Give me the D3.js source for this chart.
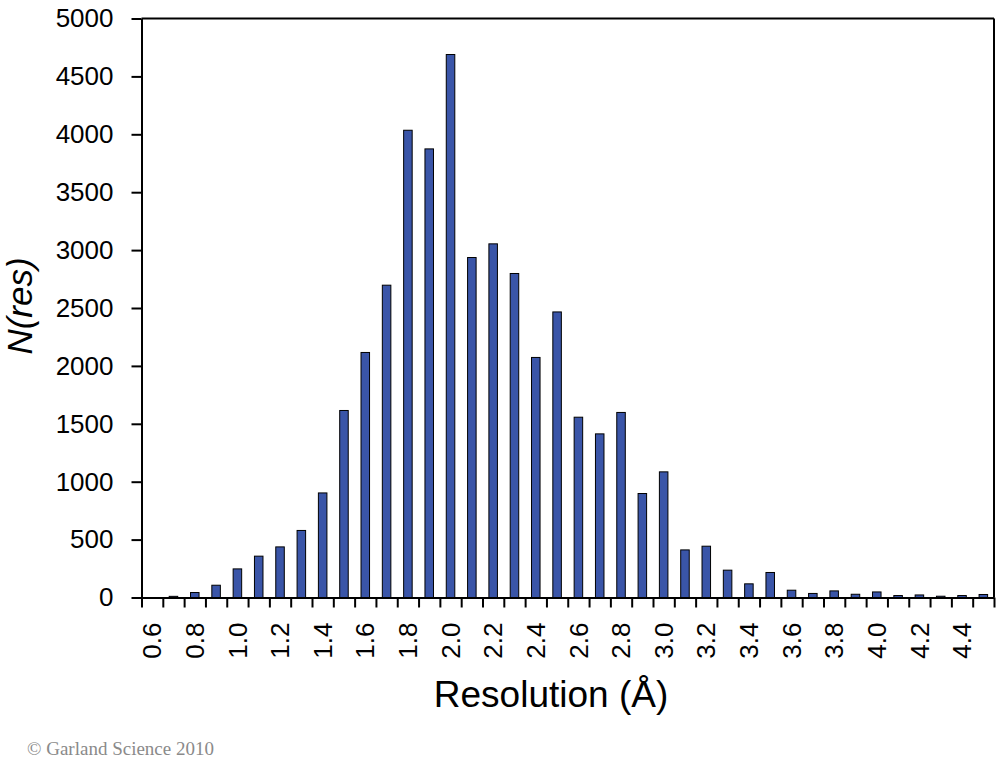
<!DOCTYPE html>
<html>
<head>
<meta charset="utf-8">
<script src="https://cdn.jsdelivr.net/npm/d3@7"></script>
<style>
  html, body { margin: 0; padding: 0; background: #fff; }
  svg { display: block; }
</style>
</head>
<body>
<svg id="chart" width="1000" height="777"></svg>
<script>
const categories = ["0.6","0.7","0.8","0.9","1.0","1.1","1.2","1.3","1.4","1.5",
  "1.6","1.7","1.8","1.9","2.0","2.1","2.2","2.3","2.4","2.5",
  "2.6","2.7","2.8","2.9","3.0","3.1","3.2","3.3","3.4","3.5",
  "3.6","3.7","3.8","3.9","4.0","4.1","4.2","4.3","4.4","4.5"];
const counts = [0, 10, 43, 106, 247, 357, 437, 579, 903, 1615,
  2116, 2697, 4035, 3874, 4689, 2936, 3054, 2798, 2073, 2466,
  1557, 1413, 1598, 898, 1085, 411, 443, 236, 118, 216,
  63, 35, 57, 28, 48, 17, 22, 11, 17, 26];
const labeledCategories = categories.filter((d, i) => i % 2 === 0 && i < 39);
const yTicks = [0, 500, 1000, 1500, 2000, 2500, 3000, 3500, 4000, 4500, 5000];

const svg = d3.select("#chart");
const mLeft = 141.5, mRight = 994, mTop = 18.5, mBottom = 597.5;
const font = "'Liberation Sans', Arial, sans-serif";

const x = d3.scaleBand().domain(categories).range([mLeft, mRight])
  .paddingInner(0.6).paddingOuter(0.3);
const xEdge = d3.scaleLinear().domain([0, categories.length]).range([mLeft, mRight]);
const y = d3.scaleLinear().domain([0, 5000]).range([mBottom, mTop]);

// bars
svg.append("g").selectAll("rect").data(counts).join("rect")
  .attr("x", (d, i) => x(categories[i]))
  .attr("y", d => y(d))
  .attr("width", x.bandwidth())
  .attr("height", d => y(0) - y(d))
  .attr("fill", "#3a55a8")
  .attr("stroke", "#000")
  .attr("stroke-width", 1);

// frame top & right
svg.append("line").attr("x1", mLeft).attr("x2", mRight).attr("y1", mTop).attr("y2", mTop)
  .attr("stroke", "#000").attr("stroke-width", 2);
svg.append("line").attr("x1", mRight).attr("x2", mRight).attr("y1", mTop).attr("y2", mBottom)
  .attr("stroke", "#000").attr("stroke-width", 2);

// y axis
const yAxis = svg.append("g").attr("transform", `translate(${mLeft},0)`)
  .call(d3.axisLeft(y).tickValues(yTicks).tickFormat(d3.format("d"))
    .tickSize(10).tickPadding(18).tickSizeOuter(0));
yAxis.selectAll("path, line").attr("stroke", "#000").attr("stroke-width", 2);
yAxis.selectAll("text").attr("font-family", font).attr("font-size", 26).attr("fill", "#000");

// x axis ticks at category boundaries
const xAxis = svg.append("g").attr("transform", `translate(0,${mBottom})`)
  .call(d3.axisBottom(xEdge).tickValues(d3.range(categories.length + 1))
    .tickFormat("").tickSize(10).tickSizeOuter(0));
xAxis.selectAll("path, line").attr("stroke", "#000").attr("stroke-width", 2);

// x labels, rotated
const xLab = svg.append("g").attr("transform", `translate(0,${mBottom})`)
  .call(d3.axisBottom(x).tickValues(labeledCategories).tickSize(0).tickPadding(0));
xLab.select(".domain").remove();
xLab.selectAll("text")
  .attr("font-family", font).attr("font-size", 26).attr("fill", "#000")
  .attr("text-anchor", "end")
  .attr("transform", "rotate(-90)")
  .attr("x", -25).attr("y", 0).attr("dy", "0.35em");

// axis titles
svg.append("text").attr("x", 551).attr("y", 707)
  .attr("text-anchor", "middle").attr("font-family", font).attr("font-size", 37)
  .attr("fill", "#000").text("Resolution (Å)");

svg.append("text").attr("transform", "translate(32,306) rotate(-90)")
  .attr("text-anchor", "middle").attr("font-family", font).attr("font-size", 35)
  .attr("font-style", "italic").attr("fill", "#000").text("N(res)");

svg.append("text").attr("x", 27).attr("y", 755)
  .attr("font-family", "'Liberation Serif', 'Times New Roman', serif").attr("font-size", 19)
  .attr("fill", "#8a8a8a").text("© Garland Science 2010");
</script>
</body>
</html>
